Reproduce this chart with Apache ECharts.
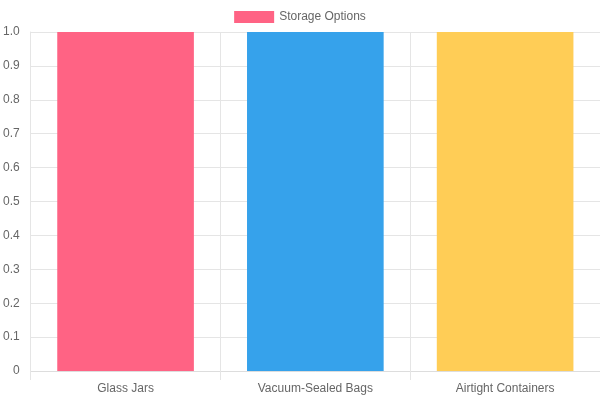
<!DOCTYPE html>
<html>
<head>
<meta charset="utf-8">
<script src="https://cdn.jsdelivr.net/npm/echarts@6/dist/echarts.min.js"></script>
<style>html,body{margin:0;padding:0;background:#fff}#c{width:600px;height:400px}</style>
</head>
<body>
<div id="c"></div>
<script>
const categories = ['Glass Jars', 'Vacuum-Sealed Bags', 'Airtight Containers'];
const values = [1, 1, 1];
const barColors = ['#ff6384', '#36a2eb', '#ffcd56'];
const seriesName = 'Storage Options';

const chart = echarts.init(document.getElementById('c'));
chart.setOption({
  animation: false,
  textStyle: { fontFamily: 'Liberation Sans, Arial, sans-serif' },
  legend: {
    top: 6, left: 'center',
    itemWidth: 40, itemHeight: 12, itemGap: 10,
    textStyle: { color: '#666', fontSize: 12 },
    data: [{ name: seriesName, icon: 'rect', itemStyle: { color: barColors[0] } }]
  },
  grid: { left: 30, right: 0, top: 32, bottom: 29, containLabel: false },
  xAxis: {
    type: 'category',
    data: categories,
    boundaryGap: true,
    axisLine: { show: true, lineStyle: { color: '#ddd' } },
    axisTick: { show: true, length: 9, alignWithLabel: false, lineStyle: { color: '#e5e5e5' } },
    axisLabel: { color: '#666', fontSize: 12, margin: 12 },
    splitLine: { show: true, lineStyle: { color: '#e5e5e5' } }
  },
  yAxis: {
    type: 'value',
    min: 0, max: 1, interval: 0.1,
    axisLine: { show: true, lineStyle: { color: '#e5e5e5' } },
    axisTick: { show: false },
    axisLabel: { color: '#666', fontSize: 12, margin: 11,
      formatter: v => v === 0 ? '0' : v.toFixed(1) },
    splitLine: { show: true, lineStyle: { color: '#e5e5e5' } }
  },
  series: [{
    name: seriesName,
    type: 'bar',
    barCategoryGap: '28%',
    data: values.map((v, i) => ({ value: v, itemStyle: { color: barColors[i] } })),
    itemStyle: { color: barColors[0] }
  }]
});
</script>
</body>
</html>
